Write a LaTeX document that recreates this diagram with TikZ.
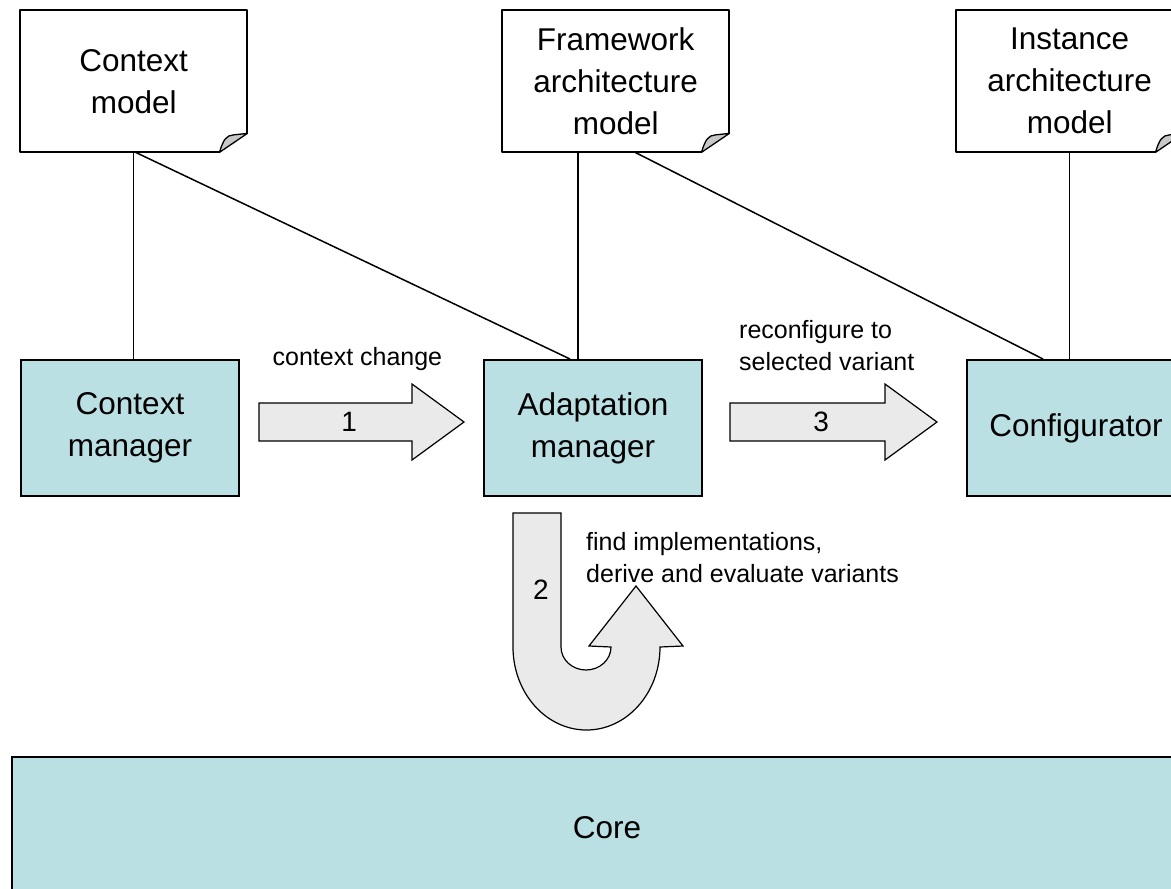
\documentclass[tikz,border=0pt]{standalone}
\usepackage{fontspec}
\setmainfont{Liberation Sans}
\usetikzlibrary{calc}
\definecolor{boxblue}{RGB}{187,224,227}
\definecolor{arrowgray}{RGB}{234,234,234}
\definecolor{foldgray}{RGB}{200,200,200}
% page outline with a curled lower-right corner around a named node
\newcommand{\docpage}[1]{%
  \draw[docline] ([xshift=-28pt]#1.south east) -- (#1.south west) -- (#1.north west)
    -- (#1.north east) -- ([yshift=19pt]#1.south east);
  \filldraw[fold] ([xshift=-28pt]#1.south east)
    .. controls +(4,-13) and +(-7,0.5) .. ([xshift=-14pt,yshift=17.5pt]#1.south east)
    -- ([yshift=19pt]#1.south east) -- cycle;
}
\begin{document}
\begin{tikzpicture}[x=1pt,y=-1pt,
  bigtext/.style={font=\fontsize{31.5}{42}\selectfont},
  smalltext/.style={font=\fontsize{25}{32}\selectfont},
  numtext/.style={font=\fontsize{28}{32}\selectfont},
  box/.style={draw=black, line width=2pt, fill=boxblue, minimum width=218pt,
    minimum height=136pt, anchor=north west, inner sep=0pt, align=center, bigtext},
  doc/.style={minimum width=227pt, minimum height=142pt, anchor=north west,
    inner sep=0pt, align=center, bigtext},
  docline/.style={draw=black, line width=2pt, line join=round},
  fold/.style={draw=black, fill=foldgray, line width=1.3pt, line join=round},
  link/.style={draw=black, line width=1.5pt},
  barrow/.style={draw=black, fill=arrowgray, line width=1.2pt, line join=miter},
  note/.style={smalltext, align=left, anchor=west, inner sep=0pt}
]
\useasboundingbox (0,0) rectangle (1171,889);
\clip (0,0) rectangle (1171,889);

% models
\node[doc] (cmodel) at (20,10) {Context\\model};
\node[doc] (fmodel) at (502,10) {Framework\\architecture\\model};
\node[doc] (imodel) at (956,10) {Instance\\architecture\\model};
\docpage{cmodel}
\docpage{fmodel}
\docpage{imodel}

% components
\node[box] (cman) at (20,359) {Context\\manager};
\node[box] (aman) at (483,359) {Adaptation\\manager};
\node[box] (conf) at (966,359) {Configurator};
\node[box, minimum width=1190pt, minimum height=142pt] (core) at (11,756) {Core};

% model links
\draw[link] (cmodel.south) -- (cmodel.south |- cman.north);
\draw[link] ([xshift=2pt]cmodel.south) -- ([xshift=-23pt]aman.north);
\draw[link] ([xshift=-37.5pt]fmodel.south) -- ([xshift=-37.5pt]fmodel.south |- aman.north);
\draw[link] ([xshift=19.5pt]fmodel.south) -- ([xshift=-33pt]conf.north);
\draw[link] (imodel.south) -- (imodel.south |- conf.north);

% step 1: context change
\coordinate (a1s) at ([xshift=19pt,yshift=6pt]cman.east);
\coordinate (a1e) at ([xshift=-19pt,yshift=6pt]aman.west);
\draw[barrow] ($(a1s)+(0,-19)$) -- ($(a1e)+(-52,-19)$) -- ($(a1e)+(-52,-38)$) -- (a1e)
  -- ($(a1e)+(-52,38)$) -- ($(a1e)+(-52,19)$) -- ($(a1s)+(0,19)$) -- cycle;
\node[numtext] (n1) at ($(a1s)!0.44!(a1e)$) {1};
\node[smalltext] (l1) at ($(a1s)!0.48!(a1e)+(0,-63)$) {context change};

% step 3: reconfiguration
\coordinate (a3s) at ([xshift=27pt,yshift=6pt]aman.east);
\coordinate (a3e) at ([xshift=-29pt,yshift=6pt]conf.west);
\draw[barrow] ($(a3s)+(0,-19)$) -- ($(a3e)+(-52,-19)$) -- ($(a3e)+(-52,-38)$) -- (a3e)
  -- ($(a3e)+(-52,38)$) -- ($(a3e)+(-52,19)$) -- ($(a3s)+(0,19)$) -- cycle;
\node[numtext] (n3) at ($(a3s)!0.44!(a3e)$) {3};
\node[note] (l3) at ($(a3s)+(9,-76)$) {reconfigure to\\selected variant};

% step 2: U-turn below the adaptation manager
\coordinate (u) at ([xshift=-80pt,yshift=-16pt]aman.south);
\draw[barrow] (u) -- ++(48,0) -- ++(0,134)
  arc[start angle=180, end angle=0, x radius=25, y radius=23]
  -- ++(-22,-1) -- ++(47,-60) -- ++(47,60) -- ++(-23,1)
  arc[start angle=0, end angle=180, x radius=73.5, y radius=83] -- cycle;
\node[numtext] (n2) at ($(u)+(28,77)$) {2};
\node[note] (l2) at ($(u)+(73,45)$) {find implementations,\\derive and evaluate variants};
\end{tikzpicture}
\end{document}
